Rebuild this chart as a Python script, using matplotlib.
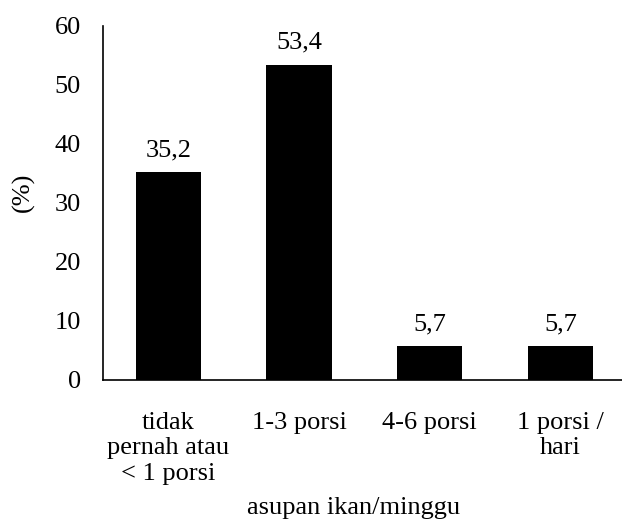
import matplotlib.pyplot as plt

plt.rcParams['font.family'] = ['Liberation Serif', 'DejaVu Serif']

CATEGORIES = ['tidak\npernah atau\n< 1 porsi', '1-3 porsi', '4-6 porsi',
              '1 porsi /\nhari']
PERCENT = [35.2, 53.4, 5.7, 5.7]
LABELS = ['35,2', '53,4', '5,7', '5,7']
FONT_SIZE = 19

fig = plt.figure(figsize=(6.22, 5.29), dpi=100)
ax = fig.add_axes([0.1656, 0.2817, 0.8404, 0.6692])

positions = range(len(CATEGORIES))
bars = ax.bar(positions, PERCENT, width=0.5, color='black')

for bar, text in zip(bars, LABELS):
    ax.annotate(text, (bar.get_x() + bar.get_width() / 2, bar.get_height()),
                xytext=(0, 8), textcoords='offset points',
                ha='center', va='bottom', fontsize=FONT_SIZE)

ax.set_xlim(-0.5, 3.5)
ax.set_ylim(0, 60)
ax.set_yticks(range(0, 61, 10))
ax.set_xticks(list(positions))
ax.set_xticklabels(CATEGORIES, fontsize=FONT_SIZE, linespacing=1.2)
ax.tick_params(axis='y', labelsize=FONT_SIZE, length=0, pad=16)
ax.tick_params(axis='x', length=0, pad=23)

ax.spines['top'].set_visible(False)
ax.spines['right'].set_visible(False)
ax.spines['left'].set_linewidth(1.2)
ax.spines['bottom'].set_linewidth(1.2)

ax.set_ylabel('(%)', fontsize=FONT_SIZE)
ax.yaxis.set_label_coords(-0.13, 0.531)
ax.set_xlabel('asupan ikan/minggu', fontsize=FONT_SIZE)
ax.xaxis.set_label_coords(0.479, -0.33)

fig.savefig('out.png', dpi=100)
